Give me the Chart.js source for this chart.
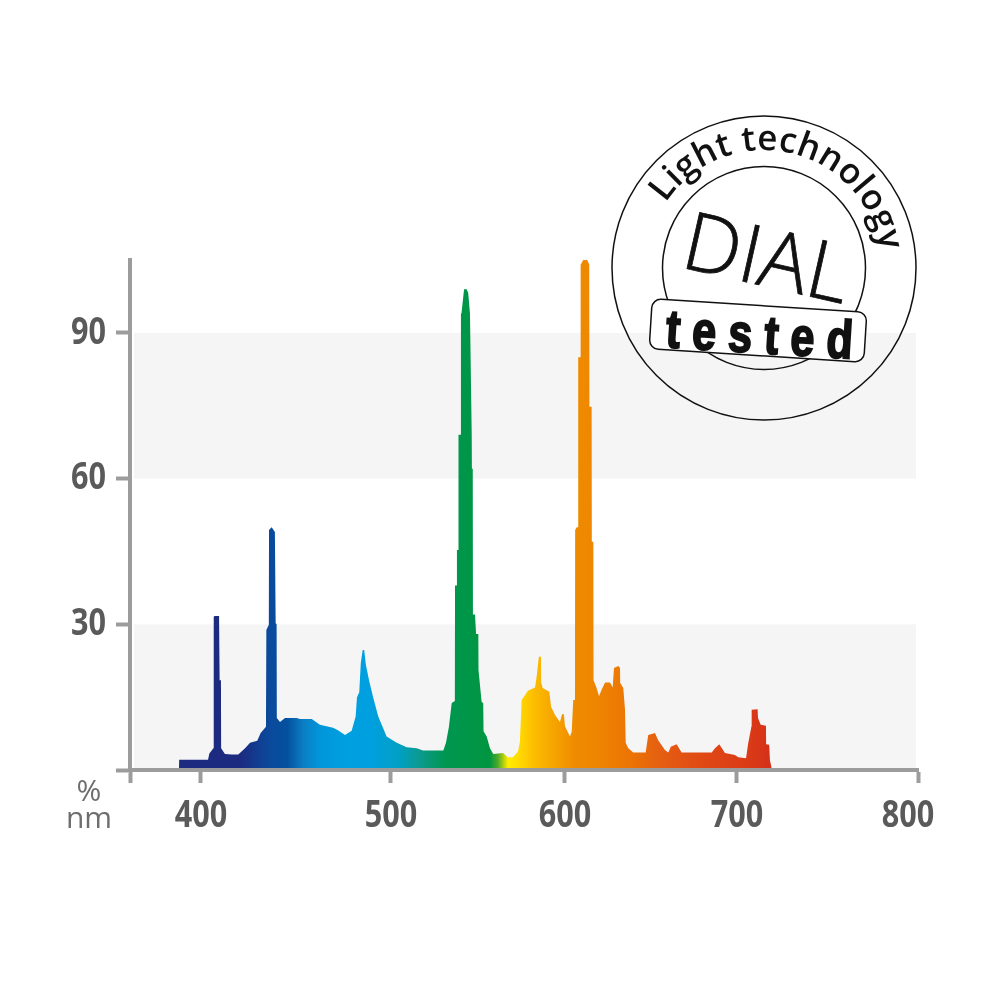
<!DOCTYPE html>
<html>
<head>
<meta charset="utf-8">
<title>Spectrum</title>
<script src="https://cdn.jsdelivr.net/npm/chart.js@4"></script>
<style>
  html, body { margin: 0; padding: 0; background: #fff; }
  #wrap { position: relative; width: 1000px; height: 1000px; overflow: hidden; }
  #chart { position: absolute; left: 0; top: 0; }
  #overlay { position: absolute; left: 0; top: 0; }
</style>
</head>
<body>
<div id="wrap">
  <canvas id="chart" width="1000" height="1000"></canvas>
  <svg id="overlay" width="1000" height="1000" viewBox="0 0 1000 1000">
    <text x="89" y="801" text-anchor="middle" font-family="Open Sans" font-size="30" fill="#6e6e6e">%</text>
    <text x="89" y="828" text-anchor="middle" font-family="Open Sans" font-size="30" fill="#6e6e6e">nm</text>

    <circle cx="764" cy="268" r="152" fill="none" stroke="#111" stroke-width="1.5"/>
    <circle cx="764" cy="268" r="101.5" fill="none" stroke="#111" stroke-width="1.5"/>
    <path id="badgeArc" fill="none" d="M 665.6 202.9 A 118 118 0 0 1 880.5 249.5"/>
    <text font-family="Open Sans" font-weight="600" font-size="35" fill="#111">
      <textPath href="#badgeArc" textLength="284" lengthAdjust="spacing">Light technology</textPath>
    </text>
    <text transform="translate(679 267) rotate(12.7)" font-family="Open Sans" font-weight="300" font-size="81" fill="#111" stroke="#111" stroke-width="0.8">DIAL</text>
    <rect x="-107.5" y="-25" width="215" height="50" rx="9" transform="translate(758 330.5) rotate(3.6)" fill="#fff" stroke="#111" stroke-width="1.5"/>
    <text transform="translate(665 347) rotate(3.6) scale(0.8 1)" font-family="Liberation Sans" font-weight="700" font-size="54" fill="#111" stroke="#111" stroke-width="2" textLength="234" lengthAdjust="spacing">tested</text>
  </svg>
</div>

<script>
// values
const wavelengths = [388.4, 388.5, 403.7, 404.4, 406.5, 406.7, 407.4, 409.5, 409.8, 410.5, 410.6, 412.6, 416.2, 419.6, 423.2, 425.8, 429.6, 431.4, 434.2, 434.4, 435.7, 435.8, 437.2, 438.9, 439.3, 439.8, 439.9, 441.6, 444.2, 450.4, 452.1, 458.3, 462.6, 469.5, 472.1, 475.8, 479.3, 481.4, 482.1, 483.3, 484.1, 485.1, 485.9, 486.8, 488.6, 490.7, 493.3, 495.9, 497.7, 503.3, 509, 514.8, 518.4, 530.1, 531.6, 533.3, 534.9, 536.7, 536.8, 537.8, 537.9, 538.7, 538.8, 540.1, 540.2, 540.5, 542, 543.5, 544.4, 545.4, 546.4, 546.5, 547, 547.1, 547.9, 548, 548.3, 548.9, 550.2, 550.3, 552.1, 553, 553.2, 555, 556.9, 558.8, 564.4, 567.2, 570.1, 573, 574.1, 575.1, 577, 578.7, 582.8, 583.7, 585, 586.2, 586.3, 587.2, 591, 592, 594.3, 597.1, 598.3, 599.4, 600, 602.9, 603.9, 604.8, 605.8, 605.9, 606.8, 607.6, 607.7, 609, 609.1, 610.6, 613, 614.1, 614.2, 615.5, 615.6, 616.5, 616.6, 618.4, 619.8, 621.3, 623.3, 626.2, 627.7, 628.5, 631, 632, 632.1, 633.9, 634.9, 635.3, 636.8, 639.7, 646.9, 648.4, 652.3, 654.1, 658.1, 660.1, 661.5, 664.9, 667.8, 685.3, 687.2, 689.7, 693, 698.8, 700.7, 705, 706.2, 708, 708.1, 711.4, 711.6, 713.1, 716, 716.1, 717.8, 718.2, 719.1, 719.2];
const intensity =   [0, 2.1, 2.1, 3.4, 4.5, 31.6, 31.7, 31.7, 18.5, 18.5, 4.5, 3.3, 3.2, 3.2, 4.5, 5.6, 6, 7.6, 8.9, 28.8, 29.9, 49.4, 50, 49, 30.2, 30, 10.7, 9.9, 10.7, 10.7, 10.5, 10.5, 9.3, 8.7, 8.2, 7.2, 8.1, 11, 15, 16, 22, 24.7, 24.7, 21.6, 18.2, 14.8, 11, 8.6, 6.9, 5.6, 4.7, 4.5, 4, 4, 5.6, 8.9, 13.8, 14.2, 38, 38, 45.3, 45.3, 69, 69, 94, 94, 99, 99, 98.2, 94, 69, 62, 62, 32, 32, 32, 32, 28, 28, 20.6, 14, 13.8, 8, 6.9, 4.5, 3.3, 3.5, 2.6, 2.6, 3.8, 5.8, 14.4, 15.4, 16.3, 17, 19.2, 23.3, 23.3, 18, 16.9, 16.1, 13, 11.3, 9.9, 11.5, 11.5, 9, 6.9, 7.9, 14.4, 14.4, 49.4, 50, 50, 85, 85, 104, 105, 105, 104, 74.8, 74.8, 47, 47, 18.5, 16.9, 15.2, 16.5, 18, 18, 17, 21, 21.4, 21, 17.9, 16.9, 12.4, 5.6, 4.5, 3.6, 3.6, 7.2, 7.6, 6.2, 4.1, 3.6, 4.8, 5.3, 3.6, 3.6, 4.5, 5.3, 3.5, 3.1, 2.6, 2.4, 5.5, 9, 12.4, 12.5, 10.7, 9.3, 9.1, 5.3, 5.2, 2, 0.5, 0];

const xTicks = [362.6, 400, 500, 600, 700, 800];
const xTickLabels = ['', '400', '500', '600', '700', '800'];
const yTicks = [0, 30, 60, 90];
const yTickLabels = ['', '30', '60', '90'];
const bandRanges = [[0, 30], [60, 90]];

const gradientNm = [388.4, 420.5, 436.3, 445.3, 453.7, 462.6, 476.8, 489, 505.2, 516.7, 531, 556.9, 561.5, 567.2, 574.1, 582.8, 597.1, 605.8, 614.5, 637.8, 655.2, 678.5, 707.2, 719];
const gradientColors = ['#1c2a80', '#1c2a80', '#0a4a9c', '#04509f', '#0b7dc4', '#0096da', '#00a0e0', '#009fe0', '#00a0c4', '#0b9a8d', '#009650', '#009640', '#50aa28', '#ffed00', '#ffd800', '#fbbb00', '#f59d00', '#ef8b00', '#ef8800', '#ec7404', '#e55f11', '#e04a14', '#da3a17', '#d5301a'];

// the printed x axis isn't evenly spaced, ticks sit at these fractions of its length
const xTickFractions = [0, 0.0901, 0.3312, 0.552, 0.7703, 1];

// tick labels are a condensed face in the original, squeeze them with fillText's maxWidth
class SqueezedScale extends Chart.LinearScale {
  _computeLabelItems(chartArea) {
    const items = super._computeLabelItems(chartArea);
    items.forEach(item => { item.options.maxWidth = String(item.label).length * 17.5; });
    return items;
  }
}
SqueezedScale.id = 'squeezed';
SqueezedScale.defaults = Chart.LinearScale.defaults;

class StretchedScale extends SqueezedScale {
  getPixelForValue(value) {
    let i = 0;
    while (i < xTicks.length - 2 && value > xTicks[i + 1]) i++;
    const t = (value - xTicks[i]) / (xTicks[i + 1] - xTicks[i]);
    const f = xTickFractions[i] + t * (xTickFractions[i + 1] - xTickFractions[i]);
    return this.left + f * this.width;
  }
  _computeLabelItems(chartArea) {
    const items = super._computeLabelItems(chartArea);
    // last label is pulled in from its tick in the original
    items[items.length - 1].options.translation[0] -= 10;
    return items;
  }
}
StretchedScale.id = 'stretched';
StretchedScale.defaults = Chart.LinearScale.defaults;
Chart.register(SqueezedScale, StretchedScale);

const bandsPlugin = {
  id: 'bands',
  beforeDatasetsDraw(chart) {
    const { ctx, scales: { y }, chartArea } = chart;
    ctx.save();
    ctx.fillStyle = '#f5f5f5';
    bandRanges.forEach(([lo, hi]) => {
      const top = y.getPixelForValue(hi);
      ctx.fillRect(chartArea.left + 4, top, chartArea.width - 6, y.getPixelForValue(lo) - top);
    });
    ctx.restore();
  }
};

function spectrumFill(context) {
  const { ctx, chartArea, scales } = context.chart;
  if (!chartArea) return '#009fe0';
  const x0 = scales.x.getPixelForValue(gradientNm[0]);
  const x1 = scales.x.getPixelForValue(gradientNm[gradientNm.length - 1]);
  const g = ctx.createLinearGradient(x0, 0, x1, 0);
  gradientNm.forEach((nm, i) => {
    g.addColorStop((scales.x.getPixelForValue(nm) - x0) / (x1 - x0), gradientColors[i]);
  });
  return g;
}

const axisColor = '#9c9c9c';
const labelFont = { family: "'Open Sans'", size: 38, weight: 'bold' };

new Chart(document.getElementById('chart'), {
  type: 'line',
  data: {
    datasets: [{
      data: wavelengths.map((x, i) => ({ x, y: intensity[i] })),
      borderWidth: 0, pointRadius: 0, tension: 0, fill: 'origin',
      backgroundColor: spectrumFill
    }]
  },
  plugins: [bandsPlugin],
  options: {
    responsive: false, animation: false,
    layout: { padding: { top: 260, right: 82, left: 0, bottom: 0 } },
    plugins: { legend: { display: false }, tooltip: { enabled: false } },
    scales: {
      x: {
        type: 'stretched', min: xTicks[0], max: 800,
        afterBuildTicks: s => { s.ticks = xTicks.map(value => ({ value })); },
        afterFit: s => { s.height = 230; },
        ticks: { autoSkip: false, maxRotation: 0, padding: 10, color: '#5a5a5a', font: labelFont, callback: (v, i) => xTickLabels[i] },
        grid: { drawOnChartArea: false, tickLength: 13, tickWidth: 4, tickColor: axisColor },
        border: { color: axisColor, width: 4, z: 1 }
      },
      y: {
        type: 'squeezed', min: 0, max: 105,
        afterBuildTicks: s => { s.ticks = yTicks.map(value => ({ value })); },
        afterFit: s => { s.width = 130; },
        ticks: { padding: 10, color: '#5a5a5a', font: labelFont, callback: (v, i) => yTickLabels[i] },
        grid: { drawOnChartArea: false, tickLength: 14, tickWidth: 4, tickColor: axisColor },
        border: { color: axisColor, width: 4, z: 1 }
      }
    }
  }
});
</script>
</body>
</html>
